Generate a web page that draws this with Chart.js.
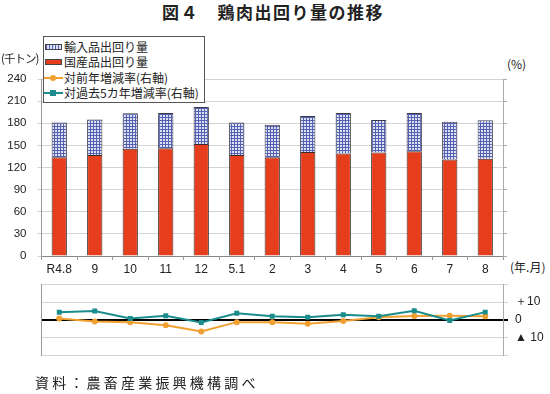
<!DOCTYPE html>
<html lang="ja">
<head>
<meta charset="utf-8">
<script src="https://cdn.jsdelivr.net/npm/chart.js@4.4.1/dist/chart.umd.min.js"></script>
<style>
  body { margin: 0; width: 550px; height: 394px; background: #fff; position: relative; overflow: hidden;
         font-family: "Noto Sans CJK JP", sans-serif; color: #222; }
  .abs { position: absolute; white-space: nowrap; line-height: 1; }
  #title { left: 0; width: 546px; top: 3px; text-align: center; font-size: 17px; font-weight: bold; letter-spacing: 1.5px; }
  #topWrap { left: 0; top: 60px; }
  #botWrap { left: 0; top: 270px; }
  #unitLeft { left: 1px; top: 53px; font-size: 11.5px; letter-spacing: -1px; z-index: 6; }
  #unitRight { left: 507px; top: 58px; font-size: 12px; }
  #unitX { left: 510px; top: 261px; font-size: 12px; }
  #source { left: 35px; top: 375px; font-size: 14px; letter-spacing: 3.2px; }
  #legend { left: 43px; top: 36px; width: 162px; height: 67px; background: #fff; border: 1px solid #555;
            z-index: 5; font-size: 12px; padding: 2px 0 0 0; box-sizing: border-box; }
  .row { height: 15.5px; display: flex; align-items: center; }
  .sw { width: 19px; height: 8px; margin: 0 1px 0 0; position: relative; flex: none; }
  .box { position: absolute; left: 1px; right: 1px; top: 1px; bottom: 1px; border: 1px solid #444; }
  .ln { position: absolute; left: 0; right: 0; top: 3px; height: 2px; }
  .mk { position: absolute; left: 6px; top: 1px; width: 6px; height: 6px; }
</style>
</head>
<body>
<div id="title" class="abs">図４　鶏肉出回り量の推移</div>
<div id="unitLeft" class="abs">(千トン)</div>
<div id="unitRight" class="abs">(%)</div>
<div id="unitX" class="abs">(年.月)</div>
<div id="legend" class="abs"></div>
<div id="topWrap" class="abs"><canvas id="top" width="550" height="220"></canvas></div>
<div id="botWrap" class="abs"><canvas id="bot" width="550" height="100"></canvas></div>
<div id="source" class="abs">資料：農畜産業振興機構調べ</div>
<script>
  // months (R4.8 .. R5.8)
  const months = ["R4.8", "9", "10", "11", "12", "5.1", "2", "3", "4", "5", "6", "7", "8"];
  // thousand tonnes
  const domestic = [134, 137, 145.5, 146, 152, 137, 134, 141, 139, 140.5, 142, 131, 132];
  const imports = [47, 48, 48, 48, 50, 44, 44, 49, 55, 44, 52, 51, 52];
  // % change
  const yoyRate = [0.9, -0.9, -1.2, -2.9, -6.4, -1.2, -1.2, -2.1, -0.5, 1.5, 2.3, 2.4, 2.1];
  const fiveYearRate = [4.3, 5.0, 0.8, 2.4, -1.4, 3.8, 2.1, 1.5, 2.9, 2.1, 5.2, -0.3, 4.4];

  const rateTickValues = [10, 0, -10];
  const rateTickLabels = ["＋10", "0", "▲ 10"];

  const names = {
    imports: "輸入品出回り量",
    domestic: "国産品出回り量",
    yoy: "対前年増減率(右軸)",
    five: "対過去5カ年増減率(右軸)"
  };

  const red = "#e63d1c";
  const orange = "#f0a030";
  const teal = "#1b8c8c";
  const tickFont = { family: "'Liberation Sans', Arial, sans-serif", size: 12 };

  function gridPattern(ctx) {
    const c = document.createElement("canvas");
    c.width = 3;
    c.height = 3;
    const g = c.getContext("2d");
    g.fillStyle = "#dde1f6";
    g.fillRect(0, 0, 3, 3);
    g.fillStyle = "#5560b0";
    g.fillRect(0, 0, 3, 1);
    g.fillRect(0, 0, 1, 3);
    return ctx.createPattern(c, "repeat");
  }

  const topCtx = document.getElementById("top").getContext("2d");
  const blueGrid = gridPattern(topCtx);

  // legend (html)
  const legend = document.getElementById("legend");
  function addRow(label, swatchHtml) {
    const row = document.createElement("div");
    row.className = "row";
    row.innerHTML = `<span class="sw">${swatchHtml}</span><span>${label}</span>`;
    legend.appendChild(row);
  }
  addRow(names.imports, `<span class="box" style="background:repeating-linear-gradient(90deg,#5560b0 0 1px,#dde1f6 1px 3px)"></span>`);
  addRow(names.domestic, `<span class="box" style="background:${red}"></span>`);
  addRow(names.yoy, `<span class="ln" style="background:${orange}"></span><span class="mk" style="background:${orange};border-radius:50%"></span>`);
  addRow(names.five, `<span class="ln" style="background:${teal}"></span><span class="mk" style="background:${teal}"></span>`);

  new Chart(topCtx, {
    type: "bar",
    data: {
      labels: months,
      datasets: [
        {
          label: names.domestic,
          data: domestic,
          backgroundColor: red,
          borderColor: "#3a2a2a",
          borderWidth: 1,
          categoryPercentage: 1,
          barPercentage: 0.43
        },
        {
          label: names.imports,
          data: imports,
          backgroundColor: blueGrid,
          borderColor: "#3a3a4a",
          borderWidth: 1,
          categoryPercentage: 1,
          barPercentage: 0.43
        }
      ]
    },
    options: {
      responsive: false,
      animation: false,
      layout: { padding: { top: 19, left: 0, right: 0, bottom: 0 } },
      plugins: { legend: { display: false }, tooltip: { enabled: false } },
      scales: {
        x: {
          stacked: true,
          grid: { drawOnChartArea: false, tickLength: 4, color: "#999", offset: true },
          border: { color: "#888" },
          ticks: { color: "#222", font: tickFont, padding: 2, maxRotation: 0, autoSkip: false },
          afterFit(s) { s.height = 24; }
        },
        y: {
          stacked: true,
          min: 0,
          max: 240,
          ticks: { stepSize: 30, color: "#222", font: { family: tickFont.family, size: 11.5 }, padding: 11 },
          grid: { color: "#d4d4d4", tickLength: 4 },
          border: { color: "#999" },
          afterFit(s) { s.width = 41.5; }
        },
        y2: {
          position: "right",
          min: 0,
          max: 240,
          ticks: { display: false, stepSize: 30 },
          grid: { drawOnChartArea: false, tickLength: 4, color: "#aaa" },
          border: { color: "#aaa" },
          afterFit(s) { s.width = 47; }
        }
      }
    }
  });

  new Chart(document.getElementById("bot"), {
    type: "line",
    data: {
      labels: months,
      datasets: [
        {
          label: names.five,
          data: fiveYearRate,
          borderColor: teal,
          backgroundColor: teal,
          borderWidth: 2,
          pointStyle: "rect",
          pointRadius: 3.5,
          pointBorderWidth: 0,
          tension: 0
        },
        {
          label: names.yoy,
          data: yoyRate,
          borderColor: orange,
          backgroundColor: orange,
          borderWidth: 2,
          pointStyle: "circle",
          pointRadius: 3,
          pointBorderWidth: 0,
          tension: 0
        }
      ]
    },
    options: {
      responsive: false,
      animation: false,
      layout: { padding: { top: 7, left: 0, right: 0, bottom: 5 } },
      plugins: { legend: { display: false }, tooltip: { enabled: false } },
      scales: {
        x: { display: false, offset: true },
        yl: {
          position: "left",
          min: -20,
          max: 20,
          ticks: { display: false, stepSize: 10 },
          grid: { display: false },
          border: { color: "#999" },
          afterFit(s) { s.width = 41.5; }
        },
        y: {
          position: "right",
          min: -20,
          max: 20,
          ticks: {
            stepSize: 10,
            color: "#222",
            font: tickFont,
            padding: 7,
            callback(v) {
              const i = rateTickValues.indexOf(v);
              return i >= 0 ? rateTickLabels[i] : "";
            }
          },
          grid: {
            color: (c) => (c.tick && c.tick.value === 0 ? "#000" : "#d4d4d4"),
            lineWidth: (c) => (c.tick && c.tick.value === 0 ? 2 : 1),
            tickLength: 5
          },
          border: { color: "#aaa" },
          afterFit(s) { s.width = 47; }
        }
      }
    }
  });
</script>
</body>
</html>
